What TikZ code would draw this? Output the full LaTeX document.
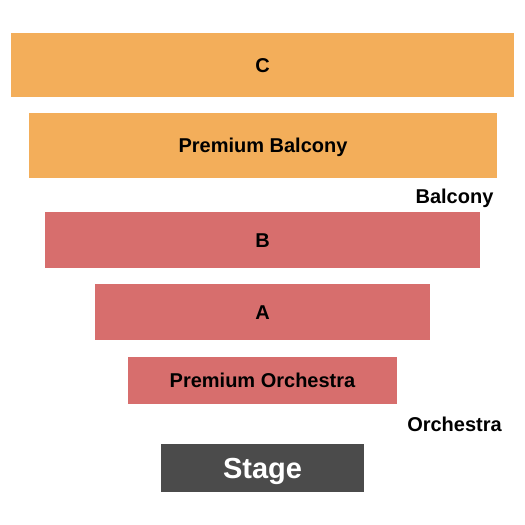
\documentclass[tikz,border=0pt]{standalone}
\usepackage{fontspec}
\setmainfont{Liberation Sans}
\usepackage{tikz}
\usetikzlibrary{positioning}
\definecolor{balconybg}{HTML}{F3AE5A}
\definecolor{orchbg}{HTML}{D76E6D}
\definecolor{stagebg}{HTML}{4B4B4B}

\tikzset{
  section/.style={inner sep=0pt, text height=14.3pt, text depth=0pt,
    font=\bfseries\fontsize{20}{24}\selectfont, text=black},
  balc/.style={section, fill=balconybg},
  orch/.style={section, fill=orchbg},
  stagebox/.style={inner sep=0pt, fill=stagebg, text=white, text height=20.8pt,
    text depth=0pt, font=\bfseries\fontsize{29}{34}\selectfont},
  level/.style={anchor=base, inner sep=0pt, font=\bfseries\fontsize{20}{24}\selectfont}
}

\begin{document}
\begin{tikzpicture}[x=1pt, y=-1pt]
  \useasboundingbox (0,0) rectangle (525,525);

  % Balcony
  \node[balc, minimum width=503, minimum height=64] (secC) at (262.5, 65) {C};
  \node[balc, minimum width=468, minimum height=65] (premBalc) at (263, 145.5) {Premium Balcony};
  \node[level] (lblBalc) at (454.5, 203) {Balcony};

  % Orchestra
  \node[orch, minimum width=435, minimum height=56] (secB) at (262.5, 240) {B};
  \node[orch, minimum width=335, minimum height=56] (secA) at (262.5, 312) {A};
  \node[orch, minimum width=269, minimum height=47] (premOrch) at (262.5, 380.5) {Premium Orchestra};
  \node[level] (lblOrch) at (454.5, 431.5) {Orchestra};

  % Stage
  \node[stagebox, minimum width=203, minimum height=48] (stage) at (262.5, 468) {Stage};
\end{tikzpicture}
\end{document}
